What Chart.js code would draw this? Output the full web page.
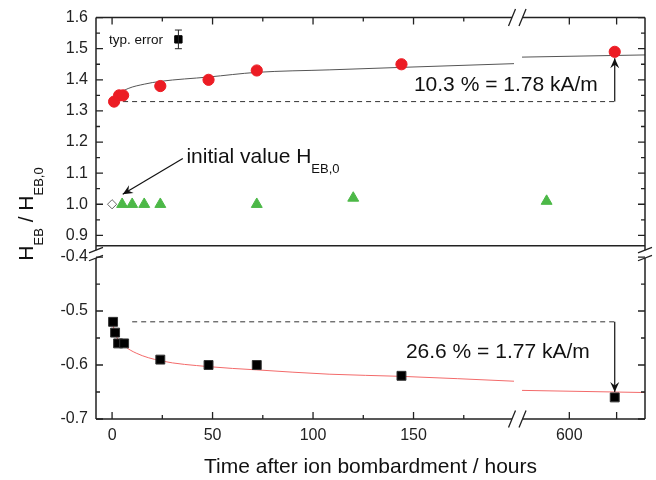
<!DOCTYPE html>
<html lang="en">
<head>
<meta charset="UTF-8">
<title>Exchange bias after ion bombardment</title>
<script src="https://cdn.jsdelivr.net/npm/chart.js"></script>
<style>
  body { margin: 0; background: #fff; }
  #wrap { width: 656px; height: 480px; }
</style>
</head>
<body>
<div id="wrap"><canvas id="chart"></canvas></div>
<script>
// time after bombardment in hours
const circleTime  = [1, 3.5, 5.5, 24, 48, 72, 144, 648];
const circleValue = [1.33, 1.35, 1.35, 1.38, 1.40, 1.43, 1.45, 1.49];
const triangleTime  = [5, 10, 16, 24, 72, 120, 576];
const triangleValue = [1.00, 1.00, 1.00, 1.00, 1.00, 1.02, 1.01];
const initialTime  = [0];
const initialValue = [1.00];
const squareTime  = [0.5, 1.5, 3, 6, 24, 48, 72, 144, 648];
const squareValue = [-0.52, -0.54, -0.56, -0.56, -0.59, -0.60, -0.60, -0.62, -0.66];

// fit curves
const fitTopTime   = [0.6, 1, 2, 4, 8, 16, 24, 48, 72, 108, 144, 200];
const fitTopValue  = [1.318, 1.327, 1.342, 1.357, 1.372, 1.386, 1.395, 1.409, 1.424, 1.432, 1.440, 1.452];
const fitTopTime2  = [550, 680];
const fitTopValue2 = [1.473, 1.480];
const fitBotTime   = [0.5, 2, 6, 12, 24, 48, 72, 108, 144, 200];
const fitBotValue  = [-0.527, -0.546, -0.564, -0.578, -0.592, -0.603, -0.609, -0.617, -0.621, -0.630];
const fitBotTime2  = [550, 680];
const fitBotValue2 = [-0.647, -0.651];

// "typ. error" marker
const errTime = [33];
const errValue = [1.53];
const errSize = [0.03];

// axes
const xTicks = [0, 50, 100, 150, 600, 650];
const xTickLabels = ['0', '50', '100', '150', '600', ''];
const xMinor = [25, 75, 125, 175];
const yTicks = [-0.7, -0.6, -0.5, -0.4, 0.9, 1.0, 1.1, 1.2, 1.3, 1.4, 1.5, 1.6];
const yMinor = [-0.65, -0.55, -0.45, 0.95, 1.05, 1.15, 1.25, 1.35, 1.45, 1.55];

// broken axis pieces: value range -> fraction of axis length
const segments = {
  x: [{min: -8, max: 200, from: 0, to: 0.7614}, {min: 550, max: 680, from: 0.776, to: 1}],
  y: [{min: -0.7, max: -0.4, from: 0, to: 0.4035}, {min: 0.867, max: 1.6, from: 0.4319, to: 1}]
};

const FONT = "'Liberation Sans', Arial, Helvetica, sans-serif";

class BrokenScale extends Chart.LinearScale {
  getPixelForValue(value) {
    if (value === null || value === undefined || isNaN(value)) return NaN;
    const segs = segments[this.id];
    let s = segs[segs.length - 1];
    for (const seg of segs) { if (value <= seg.max) { s = seg; break; } }
    return this.getPixelForDecimal(s.from + (value - s.min) / (s.max - s.min) * (s.to - s.from));
  }
  getValueForPixel(pixel) {
    const d = this.getDecimalForPixel(pixel);
    const segs = segments[this.id];
    let s = segs[segs.length - 1];
    for (const seg of segs) { if (d <= seg.to) { s = seg; break; } }
    return s.min + (d - s.from) / (s.to - s.from) * (s.max - s.min);
  }
}
BrokenScale.id = 'broken';
BrokenScale.defaults = {};
Chart.register(BrokenScale);

const pts = (xs, ys) => xs.map((v, i) => ({x: v, y: ys[i]}));
const lastT = circleTime[circleTime.length - 1];

function lineSet(data, color, dash) {
  return {
    data: data, showLine: true, pointRadius: 0, borderColor: color, borderWidth: 1,
    borderDash: dash || [], fill: false, cubicInterpolationMode: 'monotone', order: 2
  };
}

function textRuns(ctx, runs, x, y, measureOnly) {
  let cx = x;
  for (const [t, sub] of runs) {
    ctx.font = (sub ? '13px ' : '21px ') + FONT;
    if (!measureOnly) ctx.fillText(t, cx, sub ? y + 10 : y);
    cx += ctx.measureText(t).width;
  }
  return cx - x;
}

function arrowHead(ctx, x0, y0, x1, y1) {
  const ang = Math.atan2(y1 - y0, x1 - x0);
  ctx.save();
  ctx.translate(x1, y1);
  ctx.rotate(ang);
  ctx.beginPath();
  ctx.moveTo(0, 0);
  ctx.lineTo(-10, -4.5);
  ctx.lineTo(-6.5, 0);
  ctx.lineTo(-10, 4.5);
  ctx.closePath();
  ctx.fill();
  ctx.restore();
}

function arrow(ctx, x0, y0, x1, y1) {
  ctx.beginPath();
  ctx.moveTo(x0, y0);
  ctx.lineTo(x1, y1);
  ctx.stroke();
  arrowHead(ctx, x0, y0, x1, y1);
}

const decorations = {
  id: 'decorations',
  afterDatasetsDraw(chart) {
    const {ctx, chartArea: a, scales: {x, y}} = chart;
    ctx.save();
    ctx.strokeStyle = '#222';
    ctx.fillStyle = '#111';
    ctx.lineCap = 'butt';

    // frame with breaks
    const yCut = y.getPixelForValue(segments.y[1].min);
    const yB1 = yCut + 4.5;
    const yB2 = y.getPixelForValue(segments.y[0].max) + 1;
    const xB1 = x.getPixelForValue(segments.x[0].max) - 2;
    const xB2 = x.getPixelForValue(segments.x[1].min) + 0.5;
    ctx.lineWidth = 1.5;
    ctx.beginPath();
    ctx.moveTo(a.left, yCut); ctx.lineTo(a.right, yCut);
    for (const xx of [a.left, a.right]) {
      ctx.moveTo(xx, a.top); ctx.lineTo(xx, yB1);
      ctx.moveTo(xx, yB2); ctx.lineTo(xx, a.bottom);
    }
    for (const yy of [a.top, a.bottom]) {
      ctx.moveTo(a.left, yy); ctx.lineTo(xB1, yy);
      ctx.moveTo(xB2, yy); ctx.lineTo(a.right, yy);
    }
    ctx.stroke();
    ctx.lineWidth = 1.3;
    ctx.beginPath();
    for (const xx of [a.left, a.right]) {
      for (const yy of [yB1, yB2]) { ctx.moveTo(xx - 7, yy + 2.7); ctx.lineTo(xx + 7, yy - 2.7); }
    }
    for (const yy of [a.top, a.bottom]) {
      for (const xx of [xB1, xB2]) { ctx.moveTo(xx - 3.5, yy + 8.5); ctx.lineTo(xx + 3.5, yy - 8.5); }
    }
    ctx.stroke();

    // inward ticks on all four sides
    ctx.lineWidth = 1.3;
    ctx.beginPath();
    const yt = (vals, len) => vals.forEach(v => {
      const p = y.getPixelForValue(v);
      ctx.moveTo(a.left, p); ctx.lineTo(a.left + len, p);
      ctx.moveTo(a.right, p); ctx.lineTo(a.right - len, p);
    });
    const xt = (vals, len) => vals.forEach(v => {
      const p = x.getPixelForValue(v);
      ctx.moveTo(p, a.bottom); ctx.lineTo(p, a.bottom - len);
      ctx.moveTo(p, a.top); ctx.lineTo(p, a.top + len);
    });
    yt(yTicks, 7); yt(yMinor, 4);
    xt(xTicks, 7); xt(xMinor, 4);
    ctx.stroke();

    // error bar of the "typ. error" marker
    ctx.lineWidth = 1;
    ctx.beginPath();
    errTime.forEach((t, i) => {
      const px = x.getPixelForValue(t);
      const y1 = y.getPixelForValue(errValue[i] - errSize[i]);
      const y2 = y.getPixelForValue(errValue[i] + errSize[i]);
      ctx.moveTo(px, y1); ctx.lineTo(px, y2);
      ctx.moveTo(px - 3.5, y1); ctx.lineTo(px + 3.5, y1);
      ctx.moveTo(px - 3.5, y2); ctx.lineTo(px + 3.5, y2);
    });
    ctx.stroke();

    // arrows
    ctx.lineWidth = 1.2;
    ctx.strokeStyle = '#111';
    const ax = x.getPixelForValue(lastT);
    arrow(ctx, ax, y.getPixelForValue(circleValue[0]), ax, y.getPixelForValue(circleValue[circleValue.length - 1]) + 6.5);
    arrow(ctx, ax, y.getPixelForValue(squareValue[0]), ax, y.getPixelForValue(squareValue[squareValue.length - 1]) - 5.5);
    arrow(ctx, x.getPixelForValue(35.2), y.getPixelForValue(1.147), x.getPixelForValue(5.3), y.getPixelForValue(1.0325));

    // texts
    ctx.textAlign = 'left';
    ctx.textBaseline = 'alphabetic';
    ctx.fillStyle = '#111';
    textRuns(ctx, [['initial value H'], ['EB,0', true]], x.getPixelForValue(37), y.getPixelForValue(1.1315));
    textRuns(ctx, [['10.3 % = 1.78 kA/m']], x.getPixelForValue(150.2), y.getPixelForValue(1.363));
    textRuns(ctx, [['26.6 % = 1.77 kA/m']], x.getPixelForValue(146.2), y.getPixelForValue(-0.5865));
    ctx.font = '13.5px ' + FONT;
    ctx.fillText('typ. error', x.getPixelForValue(-1.5), y.getPixelForValue(1.515));

    // y axis title with subscripts
    const runs = [['H'], ['EB', true], [' / H'], ['EB,0', true]];
    ctx.translate(33, 214);
    ctx.rotate(-Math.PI / 2);
    const w = textRuns(ctx, runs, 0, 0, true);
    textRuns(ctx, runs, -w / 2, 0);
    ctx.restore();
  }
};

new Chart(document.getElementById('chart'), {
  type: 'scatter',
  data: {
    datasets: [
      {data: pts(errTime, errValue), pointStyle: 'rect', pointRadius: 5.2, backgroundColor: '#000', borderColor: '#000', borderWidth: 1, order: 0},
      {data: pts(circleTime, circleValue), pointStyle: 'circle', pointRadius: 5.6, backgroundColor: '#ec1c24', borderColor: '#ec1c24', borderWidth: 1, order: 0},
      {data: pts(triangleTime, triangleValue), pointStyle: 'triangle', pointRadius: 6.3, backgroundColor: '#4cb847', borderColor: '#4cb847', borderWidth: 1, order: 0},
      {data: pts(initialTime, initialValue), pointStyle: 'rectRot', pointRadius: 4.6, backgroundColor: '#fff', borderColor: '#666', borderWidth: 1, order: 0},
      {data: pts(squareTime, squareValue), pointStyle: 'rect', pointRadius: 6.3, backgroundColor: '#000', borderColor: '#333', borderWidth: 1, order: 0},
      lineSet(pts(fitTopTime, fitTopValue), '#555'),
      lineSet(pts(fitTopTime2, fitTopValue2), '#555'),
      lineSet(pts(fitBotTime, fitBotValue), '#f36a6a'),
      lineSet(pts(fitBotTime2, fitBotValue2), '#f36a6a'),
      lineSet([{x: circleTime[0], y: circleValue[0]}, {x: lastT, y: circleValue[0]}], '#333', [5, 4]),
      lineSet([{x: 10, y: squareValue[0]}, {x: lastT, y: squareValue[0]}], '#333', [5, 4])
    ]
  },
  options: {
    responsive: true,
    maintainAspectRatio: false,
    animation: false,
    events: [],
    layout: {padding: {top: 15, right: 11, bottom: 0, left: 0}},
    plugins: {legend: {display: false}, tooltip: {enabled: false}},
    scales: {
      x: {
        type: 'broken', min: -8, max: 680, bounds: 'data',
        grid: {display: false, drawTicks: false}, border: {display: false},
        afterBuildTicks: s => { s.ticks = xTicks.map(v => ({value: v})); },
        afterFit: s => { s.height = 61; },
        ticks: {autoSkip: false, maxRotation: 0, padding: 7, color: '#222', font: {family: FONT, size: 16},
          callback: (v, i) => xTickLabels[i]},
        title: {display: true, text: 'Time after ion bombardment / hours', color: '#111',
          font: {family: FONT, size: 21}, padding: {top: 0, bottom: 0}}
      },
      y: {
        type: 'broken', min: -0.7, max: 1.6, bounds: 'data',
        grid: {display: false, drawTicks: false}, border: {display: false},
        afterBuildTicks: s => { s.ticks = yTicks.map(v => ({value: v})); },
        afterFit: s => { s.width = 96; },
        ticks: {autoSkip: false, padding: 8, color: '#222', font: {family: FONT, size: 16},
          callback: v => v.toFixed(1)}
      }
    }
  },
  plugins: [decorations]
});
</script>
</body>
</html>
